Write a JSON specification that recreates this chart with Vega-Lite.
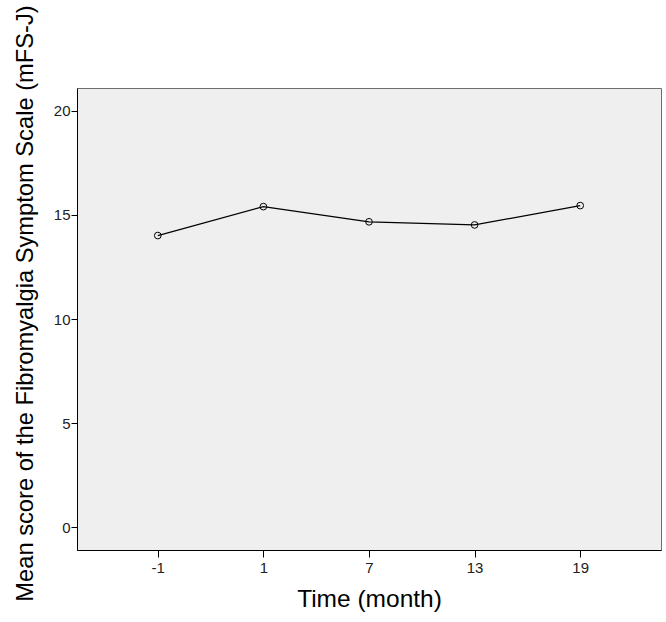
{
  "$schema": "https://vega.github.io/schema/vega-lite/v6.json",
  "autosize": "none",
  "padding": {"left": 77, "top": 88, "right": 5, "bottom": 72},
  "width": 584,
  "height": 462,
  "background": "white",
  "config": {
    "view": {"fill": "#efefef", "stroke": "#6e6e6e", "strokeWidth": 1},
    "font": "Liberation Sans"
  },
  "data": {
    "values": [
      {"time": "-1", "score": 14.01},
      {"time": "1", "score": 15.40},
      {"time": "7", "score": 14.67},
      {"time": "13", "score": 14.52},
      {"time": "19", "score": 15.45}
    ]
  },
  "encoding": {
    "x": {
      "field": "time",
      "type": "ordinal",
      "sort": ["-1", "1", "7", "13", "19"],
      "scale": {"type": "point", "padding": 0.765},
      "axis": {
        "title": "Time (month)",
        "titleFontSize": 24.5,
        "titleFontWeight": "normal",
        "titleColor": "#000",
        "titlePadding": 12,
        "labelAngle": 0,
        "labelFontSize": 15,
        "labelColor": "#222",
        "labelPadding": 3,
        "domainColor": "#000",
        "domainWidth": 1,
        "tickColor": "#000",
        "tickSize": 7,
        "grid": false
      }
    },
    "y": {
      "field": "score",
      "type": "quantitative",
      "scale": {"domain": [-1.1, 21.1], "nice": false, "zero": false},
      "axis": {
        "title": "Mean score of the Fibromyalgia Symptom Scale (mFS-J)",
        "titleFontSize": 23.7,
        "titleFontWeight": "normal",
        "titleColor": "#000",
        "titlePadding": 16,
        "titleY": 215,
        "values": [0, 5, 10, 15, 20],
        "labelFontSize": 15,
        "labelColor": "#222",
        "labelPadding": 1,
        "domainColor": "#000",
        "domainWidth": 1,
        "tickColor": "#000",
        "tickSize": 6,
        "grid": false
      }
    }
  },
  "layer": [
    {"mark": {"type": "line", "color": "#000", "strokeWidth": 1.2}},
    {"mark": {"type": "point", "shape": "circle", "filled": false, "color": "#000", "size": 45, "strokeWidth": 1, "opacity": 1}}
  ]
}
